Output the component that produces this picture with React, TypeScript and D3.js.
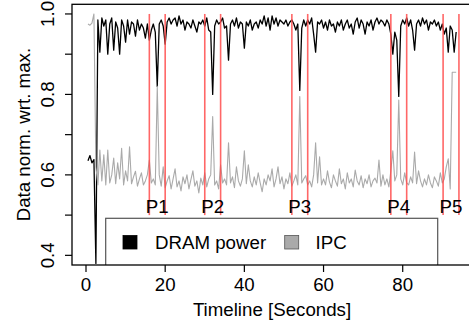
import React from "react";
import * as d3 from "d3";

// ---- Data ----
const T0 = 0.5; // first sample time (s)
const STEP = 0.5; // sampling step (s)

const dramPower: number[] = [
  0.635, 0.648, 0.630, 0.638, 0.38, 0.985, 0.905, 0.99, 0.97, 0.985,
  0.90, 0.975, 0.99, 0.91, 0.98, 0.965, 0.90, 0.985, 0.97, 0.93,
  0.985, 0.95, 0.98, 0.975, 0.945, 0.985, 0.96, 0.975, 0.965, 0.94,
  0.975, 0.935, 0.96, 0.975, 0.955, 0.82, 0.975, 0.985, 0.97, 0.925,
  0.98, 0.99, 0.975, 0.985, 0.99, 0.97, 0.995, 0.975, 0.985, 0.96,
  0.98, 0.975, 0.965, 0.985, 0.97, 0.955, 0.98, 0.975, 0.985, 0.97,
  0.99, 0.96, 0.955, 0.80, 0.97, 0.985, 0.975, 0.98, 0.99, 0.965,
  0.97, 0.885, 0.975, 0.985, 0.97, 0.99, 0.965, 0.98, 0.975, 0.915,
  0.98, 0.97, 0.985, 0.96, 0.975, 0.98, 0.965, 0.985, 0.975, 0.995,
  0.97, 0.99, 0.96, 0.995, 0.975, 0.99, 0.97, 0.985, 0.98, 0.975,
  0.985, 0.97, 0.98, 0.985, 0.975, 0.96, 0.975, 0.81, 0.965, 0.985,
  0.97, 0.985, 0.975, 0.99, 0.95, 0.905, 0.98, 0.975, 0.985, 0.965,
  0.98, 0.96, 0.985, 0.97, 0.975, 0.955, 0.98, 0.97, 0.985, 0.96,
  0.975, 0.985, 0.965, 0.975, 0.95, 0.98, 0.99, 0.965, 0.985, 0.975,
  0.95, 0.98, 0.97, 0.985, 0.96, 0.98, 0.99, 0.975, 0.985, 0.98,
  0.97, 0.985, 0.975, 0.95, 0.90, 0.955, 0.935, 0.795, 0.97, 0.985,
  0.975, 0.99, 0.97, 0.985, 0.96, 0.91, 0.975, 0.985, 0.97, 0.99,
  0.975, 0.985, 0.96, 0.98, 0.975, 0.985, 0.97, 0.98, 0.96, 0.975,
  0.95, 0.965, 0.905, 0.97, 0.96, 0.905, 0.955,
];

const ipc: number[] = [
  0.975, 0.972, 0.977, 1.0, 0.62, 0.575, 0.662, 0.585, 0.65, 0.575,
  0.662, 0.58, 0.60, 0.642, 0.578, 0.63, 0.59, 0.666, 0.575, 0.61,
  0.585, 0.67, 0.578, 0.595, 0.609, 0.572, 0.59, 0.605, 0.575, 0.585,
  0.60, 0.637, 0.58, 0.59, 0.575, 0.82, 0.60, 0.572, 0.62, 0.568,
  0.585, 0.598, 0.565, 0.59, 0.615, 0.57, 0.585, 0.56, 0.595, 0.578,
  0.60, 0.565, 0.588, 0.61, 0.572, 0.585, 0.555, 0.592, 0.575, 0.605,
  0.57, 0.59, 0.60, 0.745, 0.575, 0.585, 0.565, 0.625, 0.58, 0.59,
  0.575, 0.68, 0.58, 0.595, 0.568, 0.62, 0.585, 0.572, 0.59, 0.66,
  0.578, 0.625, 0.585, 0.57, 0.595, 0.575, 0.605, 0.58, 0.558, 0.59,
  0.575, 0.60, 0.585, 0.615, 0.57, 0.59, 0.62, 0.578, 0.595, 0.565,
  0.59, 0.578, 0.605, 0.572, 0.585, 0.60, 0.575, 0.795, 0.58, 0.59,
  0.598, 0.575, 0.585, 0.57, 0.60, 0.68, 0.58, 0.645, 0.575, 0.59,
  0.575, 0.61, 0.582, 0.568, 0.60, 0.585, 0.572, 0.615, 0.578, 0.59,
  0.565, 0.605, 0.58, 0.59, 0.57, 0.612, 0.585, 0.575, 0.598, 0.568,
  0.59, 0.578, 0.60, 0.57, 0.585, 0.592, 0.58, 0.637, 0.572, 0.60,
  0.575, 0.59, 0.57, 0.61, 0.66, 0.585, 0.60, 0.786, 0.59, 0.575,
  0.605, 0.58, 0.575, 0.595, 0.58, 0.657, 0.578, 0.61, 0.585, 0.57,
  0.59, 0.575, 0.60, 0.58, 0.568, 0.595, 0.585, 0.572, 0.605, 0.58,
  0.59, 0.62, 0.64, 0.565, 0.855, 0.855, 0.855,
];

const phaseStarts = [16, 30, 52, 77, 90.2];
const phaseEnds = [20, 34, 56, 81, 94.2];
const phaseLabels = ["P1", "P2", "P3", "P4", "P5"];

const xTicks = [0, 20, 40, 60, 80];
const yTicks = [0.4, 0.5, 0.6, 0.7, 0.8, 0.9, 1.0];
const yTickLabels = [0.4, 0.6, 0.8, 1.0];

const seriesNames = ["DRAM power", "IPC"];

// ---- Layout ----
const W = 469;
const H = 327;
const left = 72;
const right = 472;
const top = 4.3;
const bottom = 265;
const FONT = "'Liberation Sans', Arial, Helvetica, sans-serif";
const FS = 18.7;

export default function App() {
  const x = d3.scaleLinear().domain([-3.536, 97.5]).range([left, right]);
  const y = d3.scaleLinear().domain([0.376, 1.024]).range([bottom, top]);

  const line = d3
    .line<number>()
    .x((_, i) => x(T0 + i * STEP))
    .y((d) => y(d));

  const lo = 0.5;
  const hi = 1.0;

  return (
    <svg
      width={W}
      height={H}
      style={{ position: "absolute", left: 0, top: 0, background: "#fff" }}
      fontFamily={FONT}
    >
      <defs>
        <clipPath id="plotclip">
          <rect x={left} y={top} width={right - left} height={bottom - top} />
        </clipPath>
      </defs>
      <rect x={0} y={0} width={W} height={H} fill="#fff" />

      <g clipPath="url(#plotclip)">
        <path d={line(dramPower) || ""} fill="none" stroke="#000" strokeWidth={1.3} strokeLinejoin="round" />
        <path d={line(ipc) || ""} fill="none" stroke="#aaaaaa" strokeWidth={1.1} strokeLinejoin="round" />
        {phaseStarts.map((s, i) => (
          <g key={i}>
            <line x1={x(s)} x2={x(s)} y1={y(hi)} y2={y(lo)} stroke="#ff4d4d" strokeWidth={1.6} opacity={0.85} />
            <line x1={x(phaseEnds[i])} x2={x(phaseEnds[i])} y1={y(hi)} y2={y(lo)} stroke="#ff4d4d" strokeWidth={1.6} opacity={0.85} />
            <text
              x={(x(s) + x(phaseEnds[i])) / 2}
              y={y(lo) - 2}
              textAnchor="middle"
              fontSize={FS}
              fill="#000"
            >
              {phaseLabels[i]}
            </text>
          </g>
        ))}

        {/* legend */}
        <rect x={105.7} y={218.3} width={332} height={bottom - 218.3 + 2} fill="#fff" stroke="#555" strokeWidth={1.2} />
        <rect x={123} y={235.5} width={14} height={13.5} fill="#000" stroke="#000" strokeWidth={0.8} />
        <text x={155} y={249} fontSize={FS} fill="#000">{seriesNames[0]}</text>
        <rect x={284.7} y={235.5} width={14} height={13.5} fill="#aaaaaa" stroke="#555" strokeWidth={0.8} />
        <text x={315.5} y={249} fontSize={FS} fill="#000">{seriesNames[1]}</text>
      </g>

      {/* box */}
      <rect x={left} y={top} width={right - left} height={bottom - top} fill="none" stroke="#000" strokeWidth={1.3} />

      {/* x axis */}
      {xTicks.map((t) => (
        <g key={t}>
          <line x1={x(t)} x2={x(t)} y1={bottom} y2={bottom + 7} stroke="#000" strokeWidth={1.2} />
          <text x={x(t)} y={291} textAnchor="middle" fontSize={FS} fill="#000">{t}</text>
        </g>
      ))}
      <text x={272} y={316} textAnchor="middle" fontSize={FS} fill="#000">Timeline [Seconds]</text>

      {/* y axis */}
      {yTicks.map((t) => (
        <line key={t} x1={left - 7} x2={left} y1={y(t)} y2={y(t)} stroke="#000" strokeWidth={1.2} />
      ))}
      {yTickLabels.map((t) => (
        <text
          key={t}
          transform={`translate(53.5, ${y(t)}) rotate(-90)`}
          textAnchor="middle"
          fontSize={FS}
          fill="#000"
        >
          {t.toFixed(1)}
        </text>
      ))}
      <text transform={`translate(29.5, 134.6) rotate(-90)`} textAnchor="middle" fontSize={FS} fill="#000">
        Data norm. wrt. max.
      </text>
    </svg>
  );
}
